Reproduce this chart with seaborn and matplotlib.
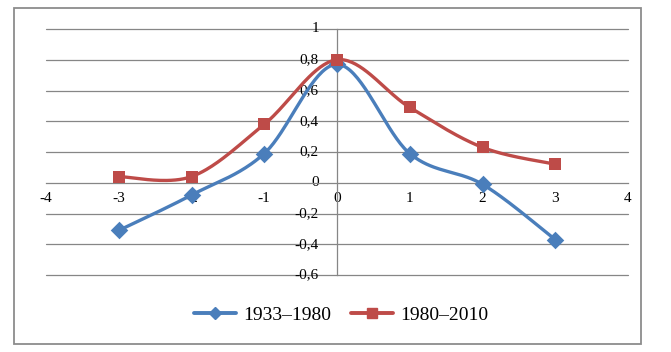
import numpy as np
import pandas as pd
import matplotlib
matplotlib.use("Agg")
import matplotlib.pyplot as plt
import seaborn as sns
from matplotlib.patches import Rectangle
from matplotlib.lines import Line2D
from matplotlib.ticker import FuncFormatter

# ---- data ----
lags = [-3, -2, -1, 0, 1, 2, 3]
series_1933_1980 = [-0.31, -0.08, 0.19, 0.77, 0.19, -0.01, -0.37]
series_1980_2010 = [0.04, 0.04, 0.38, 0.80, 0.49, 0.23, 0.12]
series_names = ["1933–1980", "1980–2010"]
x_ticks = [-4, -3, -2, -1, 0, 1, 2, 3, 4]
y_ticks = [-0.6, -0.4, -0.2, 0, 0.2, 0.4, 0.6, 0.8, 1]

colors = ["#4A7EBB", "#BE4B48"]
markers = ["D", "s"]


def excel_smooth(x, y, n=40):
    """Bezier smoothing as used by spreadsheet 'smoothed line' charts."""
    x = np.asarray(x, float)
    y = np.asarray(y, float)
    px = np.concatenate([[x[0]], x, [x[-1]]])
    py = np.concatenate([[y[0]], y, [y[-1]]])
    xs, ys = [], []
    t = np.linspace(0, 1, n)
    for i in range(1, len(px) - 2):
        p0 = np.array([px[i], py[i]])
        p3 = np.array([px[i + 1], py[i + 1]])
        p1 = p0 + (np.array([px[i + 1], py[i + 1]]) - np.array([px[i - 1], py[i - 1]])) / 6
        p2 = p3 - (np.array([px[i + 2], py[i + 2]]) - np.array([px[i], py[i]])) / 6
        b = ((1 - t) ** 3)[:, None] * p0 + (3 * (1 - t) ** 2 * t)[:, None] * p1 \
            + (3 * (1 - t) * t ** 2)[:, None] * p2 + (t ** 3)[:, None] * p3
        xs.extend(b[:, 0])
        ys.extend(b[:, 1])
    return np.array(xs), np.array(ys)


sns.set_style("white")
plt.rcParams["font.family"] = ["Liberation Serif", "DejaVu Serif"]
plt.rcParams["text.color"] = "black"
plt.rcParams["xtick.color"] = "black"
plt.rcParams["ytick.color"] = "black"

fig = plt.figure(figsize=(6.71, 3.52), dpi=100)
ax = fig.add_axes([46 / 671, 1 - 275 / 352, (628 - 46) / 671, (275 - 29) / 352])

# outer border
fig.patches.append(Rectangle((14 / 671, 1 - 344 / 352), (641 - 14) / 671, (344 - 8) / 352,
                             transform=fig.transFigure, fill=False,
                             edgecolor="#8C8C8C", linewidth=1.3))

# grid lines
for yv in y_ticks:
    if yv != 0:
        ax.axhline(yv, color="#868686", linewidth=0.9, zorder=0, clip_on=False)

for ys_, name, c, m in zip([series_1933_1980, series_1980_2010], series_names, colors, markers):
    sx, sy = excel_smooth(lags, ys_)
    df_s = pd.DataFrame({"x": sx, "y": sy})
    sns.lineplot(data=df_s, x="x", y="y", ax=ax, color=c, linewidth=2.4,
                 sort=False, estimator=None, zorder=3)
    df = pd.DataFrame({"x": lags, "y": ys_})
    sns.scatterplot(data=df, x="x", y="y", ax=ax, color=c, marker=m,
                    s=75 if m == "s" else 80, edgecolor=c, linewidth=0, zorder=4)

ax.set_xlim(-4, 4)
ax.set_ylim(-0.6, 1)
ax.set_xticks(x_ticks)
ax.set_yticks(y_ticks)
ax.set_xlabel("")
ax.set_ylabel("")

fmt = FuncFormatter(lambda v, p: ("%g" % round(v, 1)).replace(".", ","))
ax.xaxis.set_major_formatter(fmt)
ax.yaxis.set_major_formatter(fmt)

ax.spines["left"].set_position(("data", 0))
ax.spines["bottom"].set_position(("data", 0))
ax.spines["top"].set_visible(False)
ax.spines["right"].set_visible(False)
for s in ["left", "bottom"]:
    ax.spines[s].set_color("#868686")
    ax.spines[s].set_linewidth(0.9)
ax.spines["left"].set_zorder(1)

ax.tick_params(axis="x", direction="in", length=4, width=0.9, color="#868686",
               labelsize=11, pad=7, labelcolor="black")
ax.tick_params(axis="y", length=0, labelsize=11, pad=13, labelcolor="black")
for lbl in ax.get_yticklabels():
    lbl.set_verticalalignment("center")

handles = [Line2D([0], [0], color=c, linewidth=2.8, marker=m, markersize=7 if m == "s" else 6.5)
           for c, m in zip(colors, markers)]
fig.legend(handles, series_names, loc="center", bbox_to_anchor=(341 / 671, 1 - 315 / 352),
           ncol=2, frameon=False, fontsize=14, handlelength=2.2, handletextpad=0.35,
           columnspacing=1.0, labelcolor="black")

fig.savefig("out.png", dpi=100)
